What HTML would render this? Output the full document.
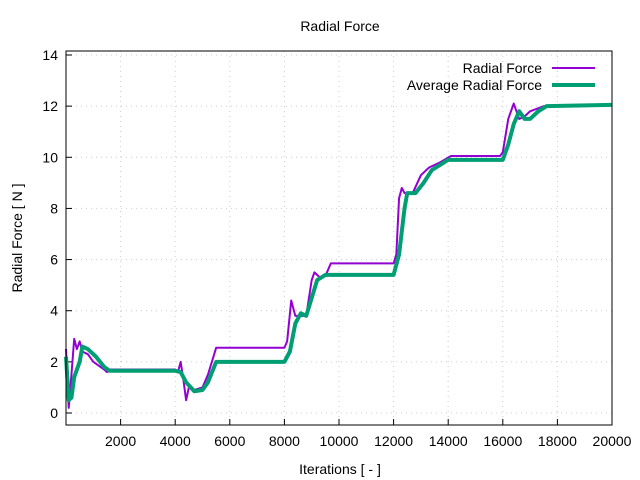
<!DOCTYPE html>
<html><head><meta charset="utf-8"><style>
body{margin:0;background:#fff}
svg{display:block;font-family:"Liberation Sans",sans-serif}
</style></head><body>
<svg id="c" width="640" height="480">
<rect width="640" height="480" fill="#fff"/>
<text x="340" y="31" font-size="14" text-anchor="middle">Radial Force</text>
<text x="340" y="474" font-size="14" text-anchor="middle">Iterations [ - ]</text>
<text transform="translate(22,238) rotate(-90)" font-size="14" text-anchor="middle">Radial Force [ N ]</text>
<g id="grid"></g><g id="ticks"></g><g id="series"></g>
<rect x="66" y="51" width="546" height="374" fill="none" stroke="#000"/>
<g>
<text x="542" y="73" font-size="14" text-anchor="end">Radial Force</text>
<line x1="552" y1="68" x2="595" y2="68" stroke="#9400d3" stroke-width="2"/>
<text x="542" y="90" font-size="14" text-anchor="end">Average Radial Force</text>
<line x1="552" y1="85" x2="595" y2="85" stroke="#009e73" stroke-width="4"/>
</g>
</svg>
<script>
const xTicks=[2000,4000,6000,8000,10000,12000,14000,16000,18000,20000];
const yTicks=[0,2,4,6,8,10,12,14];
const radialX=[0,100,200,300,400,500,600,800,1000,1400,1500,1600,4000,4100,4200,4300,4400,4500,4700,5000,5200,5500,8000,8100,8250,8400,8600,8800,9000,9100,9300,9500,9700,12000,12100,12200,12300,12400,12700,13000,13300,13700,14100,15900,16000,16200,16400,16600,16800,17000,17500,20000];
const radialY=[2.5,0.2,1.5,2.9,2.5,2.8,2.4,2.3,2.0,1.7,1.6,1.7,1.7,1.6,2.0,1.3,0.5,1.0,0.9,1.0,1.5,2.55,2.55,2.8,4.4,3.8,3.8,3.8,5.2,5.5,5.3,5.35,5.85,5.85,6.2,8.4,8.8,8.6,8.6,9.3,9.6,9.8,10.05,10.05,10.2,11.5,12.1,11.5,11.6,11.8,12.0,12.05];
const avgX=[0,100,200,300,500,600,800,1100,1400,1600,4000,4200,4400,4700,5000,5200,5500,8000,8200,8400,8600,8800,9000,9200,9500,12000,12200,12400,12500,12800,13100,13400,14000,16000,16200,16400,16600,16800,17000,17300,17600,20000];
const avgY=[2.2,0.5,0.6,1.4,2.0,2.6,2.5,2.2,1.8,1.65,1.65,1.6,1.2,0.85,0.9,1.2,2.0,2.0,2.4,3.5,3.9,3.8,4.5,5.2,5.4,5.4,6.2,8.0,8.6,8.6,9.0,9.5,9.9,9.9,10.5,11.3,11.8,11.5,11.5,11.8,12.0,12.05];
const X=v=>66+v*(546/20000), Y=v=>413-v*(358/14);
const NS="http://www.w3.org/2000/svg";
const grid=document.getElementById('grid'),ticks=document.getElementById('ticks'),ser=document.getElementById('series');
function mk(tag,a,p){const e=document.createElementNS(NS,tag);for(const k in a)e.setAttribute(k,a[k]);p.appendChild(e);return e;}
xTicks.forEach(t=>{const x=X(t);
 const g=mk('line',{x1:x,y1:51,x2:x,y2:425,stroke:'#ccc','stroke-dasharray':'1,4'},grid);
 
 
 mk('line',{x1:x,y1:425,x2:x,y2:419,stroke:'#000'},ticks);
 const l=mk('text',{x:x,y:446,'font-size':14,'text-anchor':'middle'},ticks);l.textContent=t;
 
 });
yTicks.forEach(t=>{const y=Y(t);
 const g=mk('line',{x1:66,y1:y,x2:612,y2:y,stroke:'#ccc','stroke-dasharray':'1,4'},grid);
 
 
 mk('line',{x1:66,y1:y,x2:72,y2:y,stroke:'#000'},ticks);
 const l=mk('text',{x:58,y:y+5,'font-size':14,'text-anchor':'end'},ticks);l.textContent=t;
 
 });
function line(xs,ys,col,w,name){const p=mk('polyline',{points:xs.map((v,i)=>X(v)+','+Y(ys[i])).join(' '),fill:'none',stroke:col,'stroke-width':w,'stroke-linejoin':'round'},ser);
 
 }
line(radialX,radialY,'#9400d3',2,'radial-force-line');
line(avgX,avgY,'#009e73',4,'average-radial-force-line');
</script>
</body></html>
